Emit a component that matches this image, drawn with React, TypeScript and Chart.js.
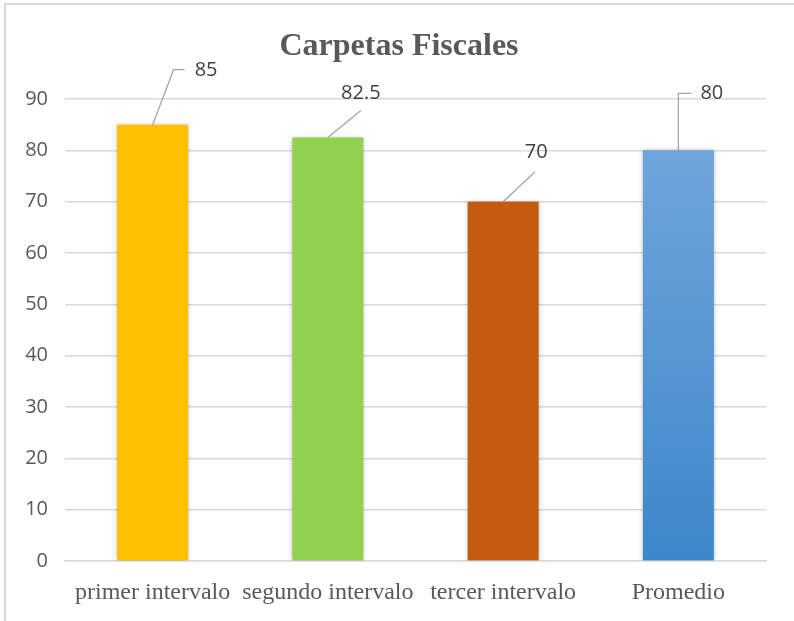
import React, { useEffect, useRef } from "react";
import { Chart, registerables } from "chart.js";

Chart.register(...registerables);

const chartTitle = "Carpetas Fiscales";
const categories = ["primer intervalo", "segundo intervalo", "tercer intervalo", "Promedio"];
const values = [85, 82.5, 70, 80];
const valueLabels = ["85", "82.5", "70", "80"];
const yTicks = [0, 10, 20, 30, 40, 50, 60, 70, 80, 90];

// styles
const barColors = ["#FFC000", "#92D050", "#C55A11", null];
const blueTop = "#6FA5DB";
const blueBottom = "#3D87CA";
// leader line geometry per label (relative to bar top): dx, dy, horizontal tail, text offset
const leaders = [
  { dx: 21, dy: -55, h: 11, tx: 10, ty: 1, align: "left" },
  { dx: 33, dy: -27, h: 0, tx: 0, ty: -17, align: "center" },
  { dx: 32, dy: -30, h: 0, tx: 1, ty: -19, align: "center" },
  { dx: 0, dy: -57, h: 13, tx: 9, ty: 0, align: "left" },
];

const frameAndLabels = {
  id: "frameAndLabels",
  beforeDraw(chart: any) {
    const ctx = chart.ctx;
    ctx.save();
    ctx.fillStyle = "#ffffff";
    ctx.fillRect(0, 0, chart.width, chart.height);
    ctx.strokeStyle = "#d9d9d9";
    ctx.lineWidth = 2;
    ctx.strokeRect(5, 4, chart.width + 20, chart.height + 20);
    ctx.fillStyle = "#595959";
    ctx.font = "bold 32px 'Liberation Serif'";
    ctx.textAlign = "center";
    ctx.textBaseline = "alphabetic";
    ctx.fillText(chartTitle, 399, 55);
    ctx.restore();
  },
  beforeDatasetDraw(chart: any) {
    const ctx = chart.ctx;
    ctx.save();
    ctx.shadowColor = "rgba(0,0,0,0.28)";
    ctx.shadowBlur = 4;
    ctx.shadowOffsetX = 0;
    ctx.shadowOffsetY = 0;
  },
  afterDatasetDraw(chart: any) {
    chart.ctx.restore();
  },
  afterDatasetsDraw(chart: any) {
    const ctx = chart.ctx;
    const meta = chart.getDatasetMeta(0);
    ctx.save();
    meta.data.forEach((bar: any, i: number) => {
      const L = leaders[i];
      const x0 = bar.x;
      const y0 = bar.y;
      const x1 = x0 + L.dx;
      const y1 = y0 + L.dy;
      const x2 = x1 + L.h;
      ctx.strokeStyle = "#a6a6a6";
      ctx.lineWidth = 1.3;
      ctx.beginPath();
      ctx.moveTo(x0, y0);
      ctx.lineTo(x1, y1);
      if (L.h > 0) ctx.lineTo(x2, y1);
      ctx.stroke();
      ctx.fillStyle = "#404040";
      ctx.font = "20px 'Open Sans'";
      ctx.textBaseline = "middle";
      ctx.textAlign = L.align;
      ctx.fillText(valueLabels[i], x2 + L.tx, y1 + L.ty);
    });
    ctx.restore();
  },
};

export default function App() {
  const ref = useRef<HTMLCanvasElement>(null);
  useEffect(() => {
    if (!ref.current) return;
    const chart = new Chart(ref.current, {
      type: "bar",
      data: {
        labels: categories,
        datasets: [
          {
            data: values,
            backgroundColor: (c: any) => {
              const i = c.dataIndex;
              if (barColors[i]) return barColors[i];
              const ch = c.chart;
              const ys = ch.scales?.y;
              if (!ys || !ch.chartArea) return blueBottom;
              const top = ys.getPixelForValue(values[i]);
              const bottom = ys.getPixelForValue(0);
              const g = ch.ctx.createLinearGradient(0, top, 0, bottom);
              g.addColorStop(0, blueTop);
              g.addColorStop(1, blueBottom);
              return g;
            },
            borderWidth: 0,
            categoryPercentage: 1,
            barPercentage: 0.405,
          },
        ],
      },
      options: {
        responsive: false,
        animation: false,
        layout: { padding: { left: 0, right: 28, top: 99, bottom: 0 } },
        plugins: {
          legend: { display: false },
          tooltip: { enabled: false },
          title: { display: false },
        },
        scales: {
          x: {
            grid: { display: false, drawTicks: false },
            border: { display: true, color: "#d9d9d9", width: 1.5 },
            ticks: {
              color: "#595959",
              font: { family: "'Liberation Serif'", size: 24, lineHeight: 1.2 },
              padding: 17,
              maxRotation: 0,
              autoSkip: false,
            },
            afterFit: (s: any) => {
              s.height = 60;
            },
          },
          y: {
            min: 0,
            max: 90,
            afterBuildTicks: (s: any) => {
              s.ticks = yTicks.map((v) => ({ value: v }));
            },
            grid: { color: "#d9d9d9", lineWidth: 1.5, drawTicks: false },
            border: { display: false },
            ticks: {
              color: "#595959",
              font: { family: "'Open Sans'", size: 20 },
              padding: 17,
            },
            afterFit: (s: any) => {
              s.width = 65;
            },
          },
        },
      },
      plugins: [frameAndLabels],
    } as any);
    return () => chart.destroy();
  }, []);
  return (
    <div style={{ position: "fixed", left: 0, top: 0, width: 794, height: 621 }}>
      <canvas ref={ref} width={794} height={621} style={{ width: 794, height: 621 }} />
    </div>
  );
}
